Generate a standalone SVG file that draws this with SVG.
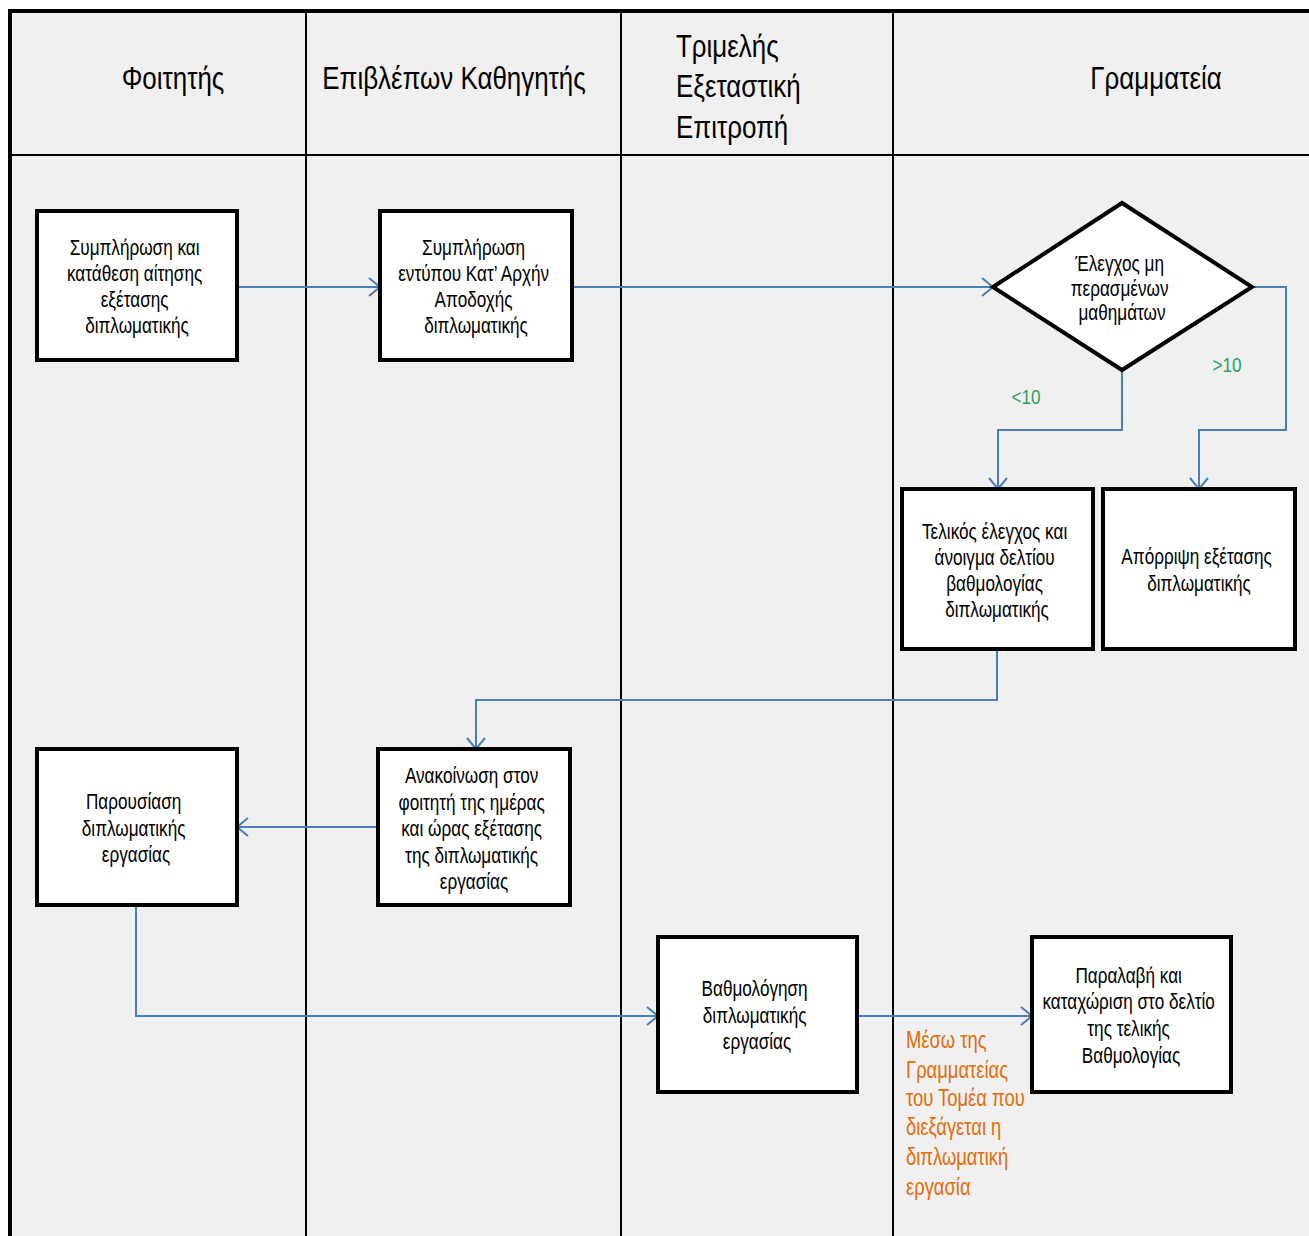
<svg xmlns="http://www.w3.org/2000/svg" width="1309" height="1236" viewBox="0 0 1309 1236">
  <style>
    .frame { fill: #f0f0f0; stroke: #000; stroke-width: 4; }
    .lane { stroke: #000; stroke-width: 2; }
    .box { fill: #fff; stroke: #000; stroke-width: 4; }
    .hdr { font-family: "Liberation Sans", Arial, sans-serif; font-size: 32px; fill: #000; }
    .lbl { font-family: "Liberation Sans", Arial, sans-serif; font-size: 22px; fill: #000; text-anchor: middle; }
    .cond { font-family: "Liberation Sans", Arial, sans-serif; font-size: 21px; fill: #2ea05c; text-anchor: middle; }
    .note { font-family: "Liberation Sans", Arial, sans-serif; font-size: 23px; fill: #e36c0a; }
    .conn { fill: none; stroke: #4a7ebb; stroke-width: 2; marker-end: url(#arrow); }
  </style>
  <defs>
    <marker id="arrow" viewBox="0 0 13 20" refX="12" refY="10" markerWidth="13" markerHeight="20" markerUnits="userSpaceOnUse" orient="auto">
      <path d="M1,1 L12,10 L1,19" fill="none" stroke="#4a7ebb" stroke-width="2"/>
    </marker>
  </defs>

  <rect width="1309" height="1236" fill="#fff"/>

  <!-- swimlane frame, header band and lane separators -->
  <g id="lanes">
    <rect class="frame" x="10" y="11" width="1330" height="1260"/>
    <line class="lane" x1="12" y1="155" x2="1309" y2="155" stroke-width="3"/>
    <line class="lane" x1="306" y1="13" x2="306" y2="1236"/>
    <line class="lane" x1="621" y1="13" x2="621" y2="1236" stroke-width="1.5"/>
    <line class="lane" x1="893" y1="13" x2="893" y2="1236"/>
    <text class="hdr" text-anchor="middle" transform="translate(173 0) scale(0.81 1)"><tspan x="0" y="89">Φοιτητής</tspan></text>
    <text class="hdr" text-anchor="middle" transform="translate(454 0) scale(0.81 1)"><tspan x="0" y="89">Επιβλέπων Καθηγητής</tspan></text>
    <text class="hdr" transform="translate(676 0) scale(0.81 1)"><tspan x="0" y="57">Τριμελής</tspan><tspan x="0" y="97">Εξεταστική</tspan><tspan x="0" y="138">Επιτροπή</tspan></text>
    <text class="hdr" text-anchor="middle" transform="translate(1156 0) scale(0.81 1)"><tspan x="0" y="89">Γραμματεία</tspan></text>
  </g>

  <!-- connectors -->
  <g id="connectors">
    <path class="conn" d="M237,287 H380"/>
    <path class="conn" d="M572,287 H993"/>
    <path class="conn" d="M1122,370 V430 H998 V489"/>
    <path class="conn" d="M1252,287 H1286 V430 H1199 V489"/>
    <path class="conn" d="M997,649 V700 H476 V749"/>
    <path class="conn" d="M378,827 H237"/>
    <path class="conn" d="M136,905 V1016 H658"/>
    <path class="conn" d="M857,1016 H1032"/>
    <text class="cond" transform="translate(1227 0) scale(0.82 1)"><tspan x="0" y="372">&gt;10</tspan></text>
    <text class="cond" transform="translate(1026 0) scale(0.82 1)"><tspan x="0" y="404">&lt;10</tspan></text>
    <text class="note" transform="translate(906 0) scale(0.8 1)">
      <tspan x="0" y="1048">Μέσω της</tspan>
      <tspan x="0" y="1078">Γραμματείας</tspan>
      <tspan x="0" y="1106">του Τομέα που</tspan>
      <tspan x="0" y="1135">διεξάγεται η</tspan>
      <tspan x="0" y="1165">διπλωματική</tspan>
      <tspan x="0" y="1195">εργασία</tspan>
    </text>
  </g>

  <!-- student: application -->
  <g id="n-application">
    <rect class="box" x="37" y="211" width="200" height="149"/>
    <text class="lbl" transform="translate(137 0) scale(0.78 1)">
      <tspan x="0" y="255">Συμπλήρωση και</tspan>
      <tspan x="0" y="281">κατάθεση αίτησης</tspan>
      <tspan x="0" y="307">εξέτασης</tspan>
      <tspan x="0" y="333">διπλωματικής</tspan>
    </text>
  </g>

  <!-- supervisor: acceptance form -->
  <g id="n-acceptance">
    <rect class="box" x="380" y="211" width="192" height="149"/>
    <text class="lbl" transform="translate(476 0) scale(0.78 1)">
      <tspan x="0" y="255">Συμπλήρωση</tspan>
      <tspan x="0" y="281">εντύπου Κατ’ Αρχήν</tspan>
      <tspan x="0" y="307">Αποδοχής</tspan>
      <tspan x="0" y="333">διπλωματικής</tspan>
    </text>
  </g>

  <!-- secretariat: course check decision -->
  <g id="n-check">
    <polygon class="box" points="993,287 1122,203 1252,287 1122,370"/>
    <text class="lbl" transform="translate(1122 0) scale(0.78 1)">
      <tspan x="0" y="271">Έλεγχος μη</tspan>
      <tspan x="0" y="296">περασμένων</tspan>
      <tspan x="0" y="320">μαθημάτων</tspan>
    </text>
  </g>

  <!-- secretariat: final check -->
  <g id="n-final-check">
    <rect class="box" x="902" y="489" width="191" height="160"/>
    <text class="lbl" transform="translate(997 0) scale(0.78 1)">
      <tspan x="0" y="539">Τελικός έλεγχος και</tspan>
      <tspan x="0" y="565">άνοιγμα δελτίου</tspan>
      <tspan x="0" y="591">βαθμολογίας</tspan>
      <tspan x="0" y="617">διπλωματικής</tspan>
    </text>
  </g>

  <!-- secretariat: rejection -->
  <g id="n-reject">
    <rect class="box" x="1103" y="489" width="192" height="160"/>
    <text class="lbl" transform="translate(1199 0) scale(0.78 1)">
      <tspan x="0" y="564">Απόρριψη εξέτασης</tspan>
      <tspan x="0" y="591">διπλωματικής</tspan>
    </text>
  </g>

  <!-- supervisor: announcement -->
  <g id="n-announce">
    <rect class="box" x="378" y="749" width="192" height="156"/>
    <text class="lbl" transform="translate(474 0) scale(0.78 1)">
      <tspan x="0" y="783">Ανακοίνωση στον</tspan>
      <tspan x="0" y="810">φοιτητή της ημέρας</tspan>
      <tspan x="0" y="836">και ώρας εξέτασης</tspan>
      <tspan x="0" y="863">της διπλωματικής</tspan>
      <tspan x="0" y="889">εργασίας</tspan>
    </text>
  </g>

  <!-- student: presentation -->
  <g id="n-presentation">
    <rect class="box" x="37" y="749" width="200" height="156"/>
    <text class="lbl" transform="translate(136 0) scale(0.78 1)">
      <tspan x="0" y="809">Παρουσίαση</tspan>
      <tspan x="0" y="836">διπλωματικής</tspan>
      <tspan x="0" y="862">εργασίας</tspan>
    </text>
  </g>

  <!-- committee: grading -->
  <g id="n-grading">
    <rect class="box" x="658" y="937" width="199" height="155"/>
    <text class="lbl" transform="translate(757 0) scale(0.78 1)">
      <tspan x="0" y="996">Βαθμολόγηση</tspan>
      <tspan x="0" y="1023">διπλωματικής</tspan>
      <tspan x="0" y="1049">εργασίας</tspan>
    </text>
  </g>

  <!-- secretariat: recording the grade -->
  <g id="n-record">
    <rect class="box" x="1032" y="937" width="199" height="155"/>
    <text class="lbl" transform="translate(1131 0) scale(0.78 1)">
      <tspan x="0" y="983">Παραλαβή και</tspan>
      <tspan x="0" y="1009">καταχώριση στο δελτίο</tspan>
      <tspan x="0" y="1036">της τελικής</tspan>
      <tspan x="0" y="1063">Βαθμολογίας</tspan>
    </text>
  </g>
</svg>
